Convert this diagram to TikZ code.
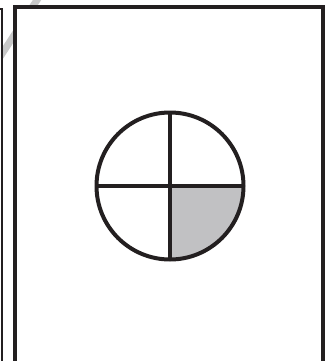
\documentclass[tikz,border=0pt]{standalone}
\definecolor{ink}{HTML}{231F20}
\definecolor{fillgray}{HTML}{C1C1C3}
\definecolor{ghost}{HTML}{C8C8C8}
\begin{document}
\begin{tikzpicture}[x=1pt,y=-1pt,
  frame/.style={draw=ink,line width=4pt,fill=white},
  leftframe/.style={draw=ink,line width=2.2pt,fill=white},
  wheel/.style={draw=ink,line width=4pt}]
\useasboundingbox (0,0) rectangle (332,361);
\fill[white] (0,0) rectangle (332,361);
% faint diagonal behind the frames
\coordinate (g1) at (50,-20);
\coordinate (g2) at (-15,80);
\draw[ghost,line width=7pt] (g1) -- (g2);
% left partial frame
\draw[leftframe] (-60,9.2) rectangle (2.3,380);
% main frame
\draw[frame] (15,7) rectangle (322.5,380);
% quadrant fill
\coordinate (c) at (170,186);
\fill[fillgray] (c) -- (243.5,186) arc[start angle=0,end angle=90,radius=73.5] -- cycle;
% circle and cross
\draw[wheel] (c) circle[radius=73.5];
\draw[wheel] (96.5,186) -- (243.5,186);
\draw[wheel] (170,112.5) -- (170,259.5);
\end{tikzpicture}
\end{document}
